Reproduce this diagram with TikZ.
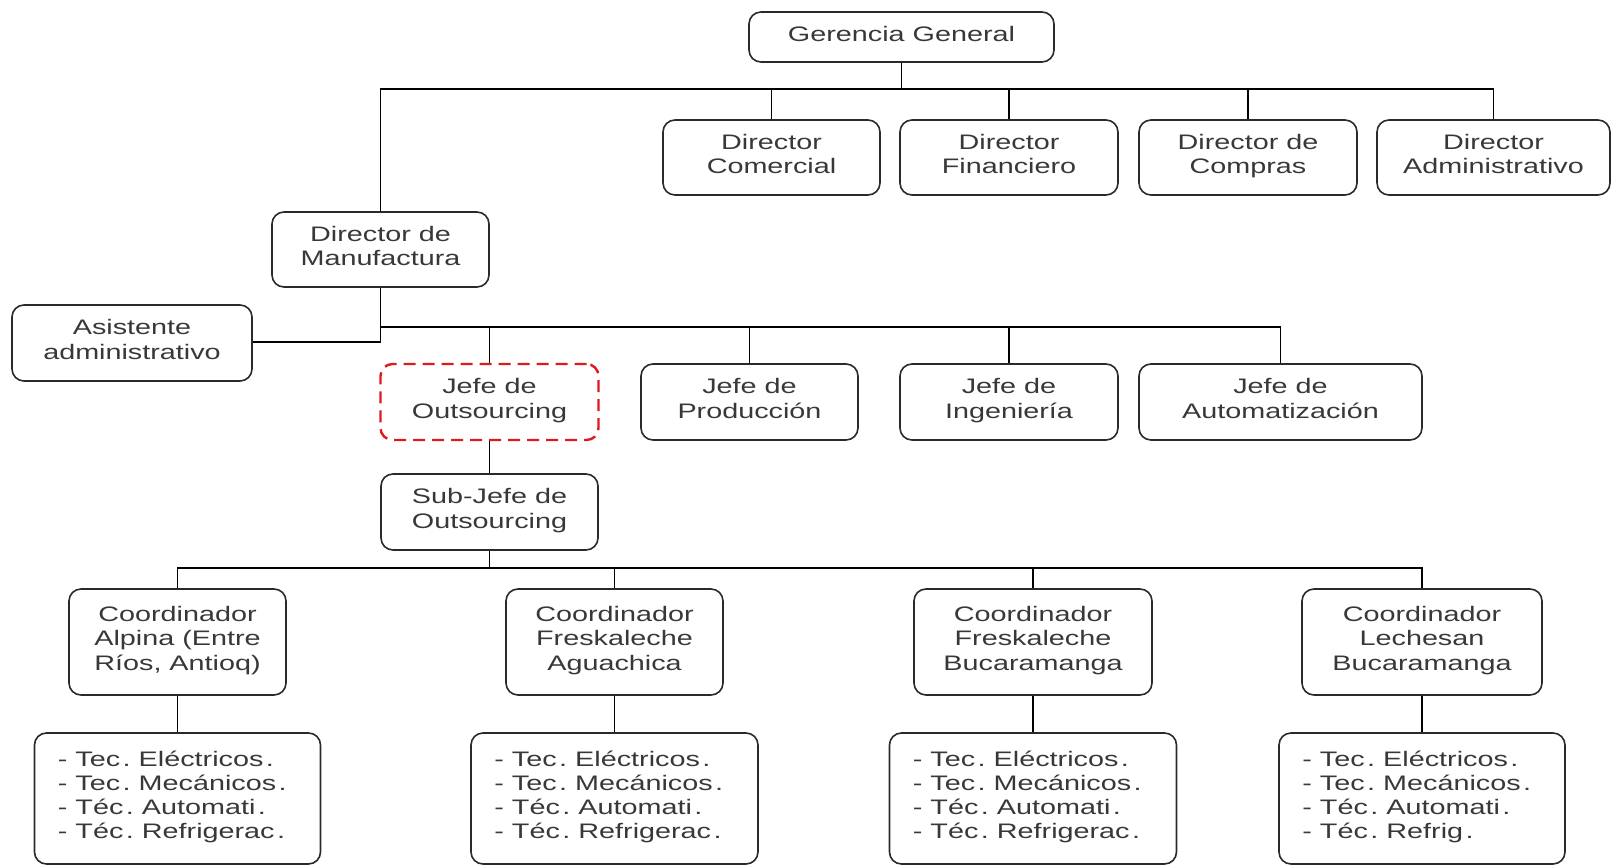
\documentclass[tikz,border=0pt]{standalone}
\usepackage{fontspec}
\setmainfont{Liberation Sans}[FakeStretch=1.37]
\definecolor{txt}{HTML}{383838}
\definecolor{edge}{HTML}{2A2A2A}
\definecolor{dashred}{HTML}{E0191E}
\newcommand{\pd}{\kern2.5pt.}
\begin{document}
\frenchspacing
\begin{tikzpicture}[x=1pt,y=-1pt,
  box/.style={draw=edge,line width=1.6pt,rounded corners=12pt,inner sep=0pt,
    align=center,text=txt,font=\fontsize{21pt}{24.6pt}\selectfont,
    execute at begin node={\strut},execute at end node={\strut}},
  listtext/.style={inner sep=0pt,align=left,text=txt,
    font=\fontsize{21pt}{24.2pt}\selectfont,
    execute at begin node={\strut},execute at end node={\strut}},
  conn/.style={draw=black,line width=1.3pt},
  redbox/.style={box,draw=dashred,line width=2.4pt,dash pattern=on 12pt off 7pt}]
\useasboundingbox (0,0) rectangle (1612,866);
% level 0
\node[box,minimum width=305pt,minimum height=50pt] (gg) at (901.5,37) {Gerencia General};
% directors
\node[box,minimum width=217pt,minimum height=75pt] (dcom) at (771.5,157.5) {Director\\Comercial};
\node[box,minimum width=218pt,minimum height=75pt] (dfin) at (1009,157.5) {Director\\Financiero};
\node[box,minimum width=218pt,minimum height=75pt] (dcomp) at (1248,157.5) {Director de\\Compras};
\node[box,minimum width=233pt,minimum height=75pt] (dadm) at (1493.5,157.5) {Director\\Administrativo};
\node[box,minimum width=217pt,minimum height=75pt] (dman) at (380.5,249.5) {Director de\\Manufactura};
\node[box,minimum width=240pt,minimum height=76pt] (asis) at (132,343) {Asistente\\administrativo};
% jefes
\node[redbox,minimum width=218pt,minimum height=76pt] (jout) at (489.5,402) {Jefe de\\Outsourcing};
\node[box,minimum width=217pt,minimum height=76pt] (jpro) at (749.5,402) {Jefe de\\Producción};
\node[box,minimum width=218pt,minimum height=76pt] (jing) at (1009,402) {Jefe de\\Ingeniería};
\node[box,minimum width=283pt,minimum height=76pt] (jaut) at (1280.5,402) {Jefe de\\Automatización};
\node[box,minimum width=217pt,minimum height=76pt] (sub) at (489.5,512) {Sub-Jefe de\\Outsourcing};
% coordinators
\node[box,minimum width=217pt,minimum height=106pt] (c1) at (177.5,642) {Coordinador\\Alpina (Entre\\Ríos, Antioq)};
\node[box,minimum width=217pt,minimum height=106pt] (c2) at (614.5,642) {Coordinador\\Freskaleche\\Aguachica};
\node[box,minimum width=238pt,minimum height=106pt] (c3) at (1033,642) {Coordinador\\Freskaleche\\Bucaramanga};
\node[box,minimum width=240pt,minimum height=106pt] (c4) at (1422,642) {Coordinador\\Lechesan\\Bucaramanga};
% technicians
\node[box,minimum width=286pt,minimum height=131pt] (t1) at (177.5,798.5) {};
\node[box,minimum width=287pt,minimum height=131pt] (t2) at (614.5,798.5) {};
\node[box,minimum width=287pt,minimum height=131pt] (t3) at (1033,798.5) {};
\node[box,minimum width=286pt,minimum height=131pt] (t4) at (1422,798.5) {};
\node[listtext,anchor=west] (l1) at ([xshift=24pt]t1.west) {- Tec\pd{} Eléctricos\pd\\- Tec\pd{} Mecánicos\pd\\- Téc\pd{} Automati\pd\\- Téc\pd{} Refrigerac\pd};
\node[listtext,anchor=west] (l2) at ([xshift=24pt]t2.west) {- Tec\pd{} Eléctricos\pd\\- Tec\pd{} Mecánicos\pd\\- Téc\pd{} Automati\pd\\- Téc\pd{} Refrigerac\pd};
\node[listtext,anchor=west] (l3) at ([xshift=24pt]t3.west) {- Tec\pd{} Eléctricos\pd\\- Tec\pd{} Mecánicos\pd\\- Téc\pd{} Automati\pd\\- Téc\pd{} Refrigerac\pd};
\node[listtext,anchor=west] (l4) at ([xshift=24pt]t4.west) {- Tec\pd{} Eléctricos\pd\\- Tec\pd{} Mecánicos\pd\\- Téc\pd{} Automati\pd\\- Téc\pd{} Refrig\pd};
% bus coordinates
\coordinate (b1) at (0,89);
\coordinate (b2) at (0,327);
\coordinate (b3) at (0,568);
\coordinate (ba) at (0,342);
% connectors level 1
\draw[conn] (gg.south) -- (gg.south |- b1);
\draw[conn] (dman.north) |- (dadm.north |- b1) -- (dadm.north);
\draw[conn] (dcom.north) -- (dcom.north |- b1);
\draw[conn] (dfin.north) -- (dfin.north |- b1);
\draw[conn] (dcomp.north) -- (dcomp.north |- b1);
% level 2
\draw[conn] (dman.south) -- (dman.south |- ba) -- (asis.east |- ba);
\draw[conn] (dman.south |- b2) -- (jaut.north |- b2) -- (jaut.north);
\draw[conn] (jout.north) -- (jout.north |- b2);
\draw[conn] (jpro.north) -- (jpro.north |- b2);
\draw[conn] (jing.north) -- (jing.north |- b2);
\draw[conn] (jout.south) -- (sub.north);
% level 3
\draw[conn] (sub.south) -- (sub.south |- b3);
\draw[conn] (c1.north) |- (c4.north |- b3) -- (c4.north);
\draw[conn] (c2.north) -- (c2.north |- b3);
\draw[conn] (c3.north) -- (c3.north |- b3);
\draw[conn] (c1.south) -- (t1.north);
\draw[conn] (c2.south) -- (t2.north);
\draw[conn] (c3.south) -- (t3.north);
\draw[conn] (c4.south) -- (t4.north);
\end{tikzpicture}
\end{document}
